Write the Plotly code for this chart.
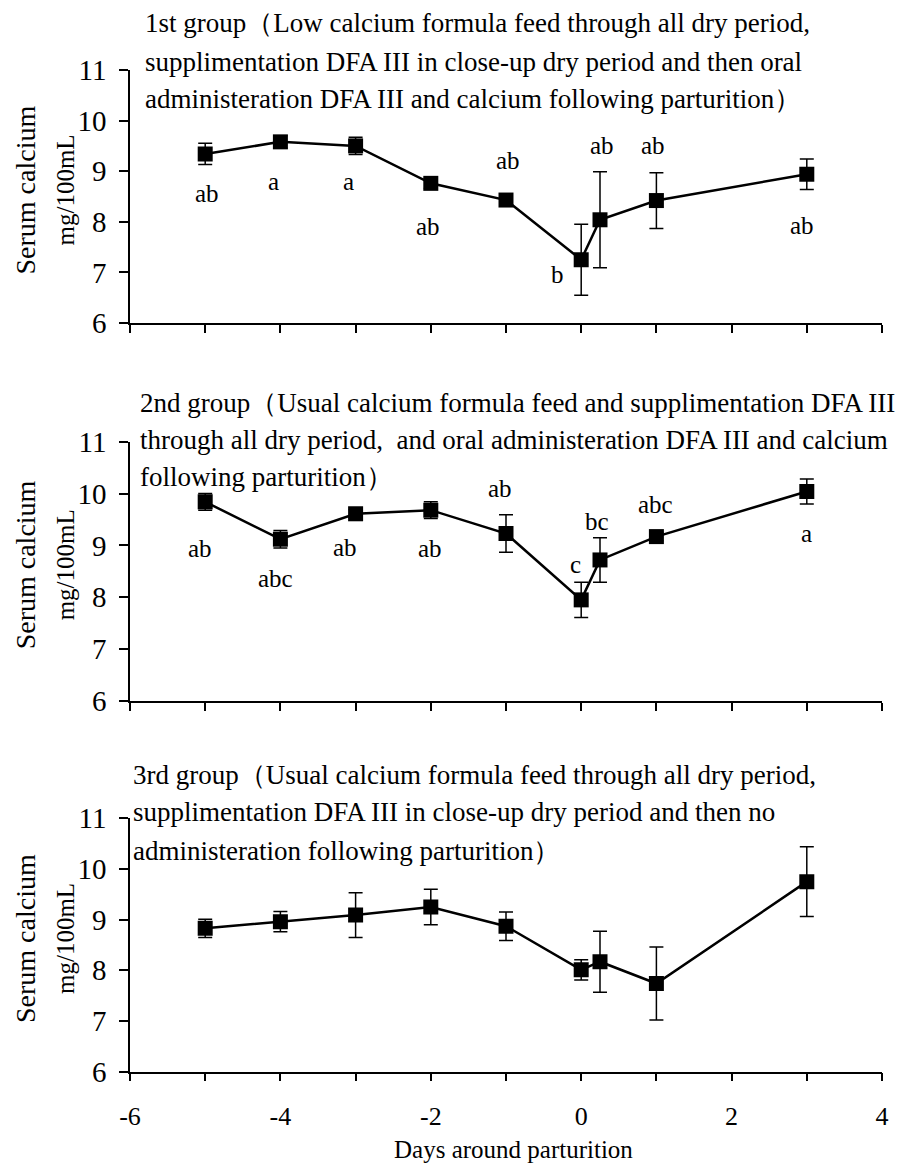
import plotly.graph_objects as go

# ---- data ----
days = [-5, -4, -3, -2, -1, 0, 0.25, 1, 3]

g1_mean = [9.34, 9.58, 9.50, 8.76, 8.43, 7.25, 8.04, 8.42, 8.94]
g1_err = [0.21, 0.12, 0.17, 0.10, 0.10, 0.70, 0.95, 0.55, 0.30]
g1_letters = ["ab", "a", "a", "ab", "ab", "b", "ab", "ab", "ab"]

g2_mean = [9.84, 9.12, 9.61, 9.68, 9.23, 7.95, 8.72, 9.17, 10.04]
g2_err = [0.16, 0.17, 0.08, 0.16, 0.36, 0.34, 0.43, 0.08, 0.24]
g2_letters = ["ab", "abc", "ab", "ab", "ab", "c", "bc", "abc", "a"]

g3_mean = [8.83, 8.96, 9.09, 9.25, 8.87, 8.01, 8.17, 7.74, 9.75]
g3_err = [0.18, 0.20, 0.44, 0.35, 0.28, 0.20, 0.60, 0.72, 0.69]

x_tickvals = [-6, -5, -4, -3, -2, -1, 0, 1, 2, 3, 4]
x_ticktext = ["-6", "", "-4", "", "-2", "", "0", "", "2", "", "4"]
y_tickvals = [6, 7, 8, 9, 10, 11]

titles = [
    ["1st group（Low calcium formula feed through all dry period,",
     "supplimentation DFA III in close-up dry period and then oral",
     "administeration DFA III and calcium following parturition）"],
    ["2nd group（Usual calcium formula feed and supplimentation DFA III",
     "through all dry period,  and oral administeration DFA III and calcium",
     "following parturition）"],
    ["3rd group（Usual calcium formula feed through all dry period,",
     "supplimentation DFA III in close-up dry period and then no",
     "administeration following parturition）"],
]

# ---- layout helpers (pixel positions in a 898x1166 page) ----
W, H = 898, 1166
FONT = "Liberation Serif"

def px(x):
    return x / W

def py(y):
    return 1 - y / H

x_dom = [px(130), px(882)]
panels = [  # (pixel of y=11, pixel of y=6)
    (70, 323),
    (441.7, 701),
    (818.3, 1071.7),
]
title_rows = [
    (143, [23, 62, 99]),
    (138, [403, 440, 477]),
    (131, [775, 812, 851]),
]
lbl1_dx = [2, -7, -7, -3, 2, -24, 2, -3, -5]
lbl1_dy = [-39, -40, -36, -43, 40, -15, 74, 55, -51]
lbl2_dx = [-5, -5, -11, -1, -6, -6, -3, -1, 0]
lbl2_dy = [-47, -39, -34, -38, 45, 35, 38, 32, -42]

fig = go.Figure()
series = [(g1_mean, g1_err), (g2_mean, g2_err), (g3_mean, g3_err)]
annotations = []

for i, (m, e) in enumerate(series):
    sfx = "" if i == 0 else str(i + 1)
    fig.add_trace(go.Scatter(
        x=days, y=m, mode="lines+markers",
        xaxis="x" + sfx, yaxis="y" + sfx,
        line=dict(color="black", width=2.5),
        marker=dict(symbol="square", size=15, color="black"),
        error_y=dict(type="data", array=e, visible=True, color="black",
                     thickness=1.5, width=7),
        showlegend=False,
    ))
    top, bot = panels[i]
    xa = dict(
        domain=x_dom, range=[-6, 4], anchor="y" + sfx,
        tickvals=x_tickvals, ticktext=x_ticktext,
        showticklabels=(i == 2), automargin=False,
        ticks="outside", ticklen=8, tickwidth=1.5, tickcolor="black",
        showline=True, linecolor="black", linewidth=1.5,
        showgrid=False, zeroline=False,
        tickfont=dict(family=FONT, size=26, color="black"),
        ticklabelstandoff=12,
    )
    ya = dict(
        domain=[py(bot), py(top)], range=[6, 11], anchor="x" + sfx,
        tickvals=y_tickvals, automargin=False,
        ticks="outside", ticklen=9, tickwidth=1.5, tickcolor="black",
        showline=True, linecolor="black", linewidth=1.5,
        showgrid=False, zeroline=False,
        tickfont=dict(family=FONT, size=29, color="black"),
        ticklabelstandoff=7,
    )
    fig.update_layout(**{"xaxis" + sfx: xa, "yaxis" + sfx: ya})

    # panel titles
    tx, tys = title_rows[i]
    for line, ty in zip(titles[i], tys):
        annotations.append(dict(
            text=line, x=px(tx), y=py(ty), xref="paper", yref="paper",
            xanchor="left", yanchor="middle", showarrow=False,
            font=dict(family=FONT, size=27, color="black"),
        ))
    # y axis titles
    cy = (top + bot) / 2 - 6
    annotations.append(dict(
        text="Serum calcium", x=px(25), y=py(cy), xref="paper", yref="paper",
        xanchor="center", yanchor="middle", textangle=-90, showarrow=False,
        font=dict(family=FONT, size=28, color="black"),
    ))
    annotations.append(dict(
        text="mg/100mL", x=px(65), y=py(cy), xref="paper", yref="paper",
        xanchor="center", yanchor="middle", textangle=-90, showarrow=False,
        font=dict(family=FONT, size=25, color="black"),
    ))

# significance letters
for sfx, m, letters, dxs, dys in [("", g1_mean, g1_letters, lbl1_dx, lbl1_dy),
                                  ("2", g2_mean, g2_letters, lbl2_dx, lbl2_dy)]:
    for xv, yv, t, dx, dy in zip(days, m, letters, dxs, dys):
        annotations.append(dict(
            text=t, x=xv, y=yv, xref="x" + sfx, yref="y" + sfx,
            xshift=dx, yshift=dy, xanchor="center", yanchor="middle",
            showarrow=False, font=dict(family=FONT, size=25, color="black"),
        ))

annotations.append(dict(
    text="Days around parturition", x=px(513), y=py(1149), xref="paper",
    yref="paper", xanchor="center", yanchor="middle", showarrow=False,
    font=dict(family=FONT, size=25, color="black"),
))

fig.update_layout(
    template="none",
    width=W, height=H,
    margin=dict(l=0, r=0, t=0, b=0),
    paper_bgcolor="white", plot_bgcolor="white",
    annotations=annotations,
    font=dict(family=FONT, color="black"),
)

fig.write_html(
    "out.html",
    config={"displayModeBar": False},
    post_script="document.body.style.margin='0';document.body.style.overflow='hidden';",
)
